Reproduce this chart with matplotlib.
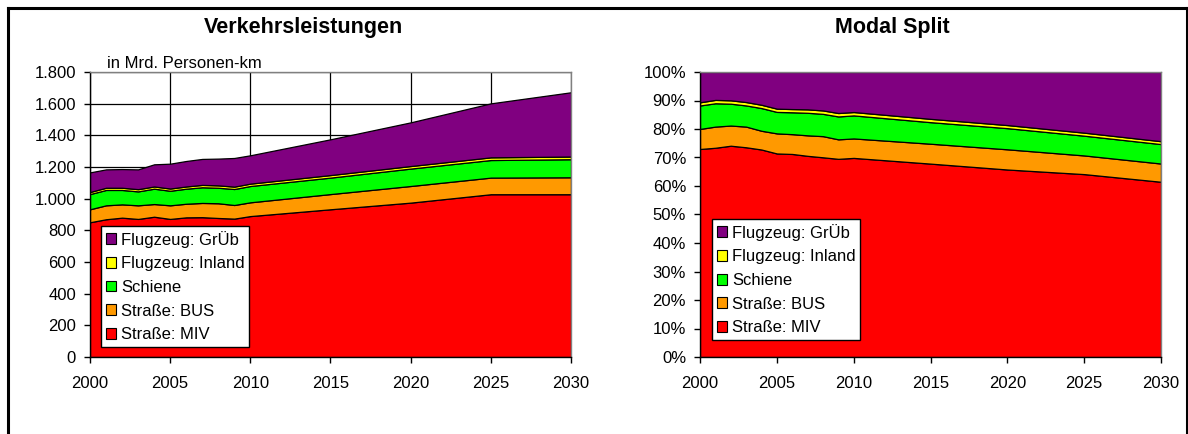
import numpy as np
import matplotlib
matplotlib.use("Agg")
import matplotlib.pyplot as plt
from matplotlib.patches import Patch
from matplotlib.lines import Line2D
from matplotlib.ticker import FuncFormatter, PercentFormatter, MultipleLocator

plt.rcParams['font.family'] = ['Liberation Sans', 'DejaVu Sans']

# Passenger transport volume in billion passenger-km
years = [2000, 2001, 2002, 2003, 2004, 2005, 2006, 2007, 2008, 2009, 2010,
         2015, 2020, 2025, 2030]
strasse_miv = [851, 870, 880, 872, 886, 872, 882, 883, 878, 874, 890,
               933, 975, 1028, 1028]
strasse_bus = [82, 88, 84, 86, 80, 86, 86, 90, 93, 86, 87,
               96, 105, 105, 107]
schiene = [96, 97, 91, 88, 97, 92, 95, 99, 98, 101, 103,
           104, 110, 111, 114]
flug_inland = [13, 14, 14, 14, 14, 14, 14, 15, 15, 15, 15,
               16, 16, 17, 17]
flug_grueb = [124, 116, 118, 125, 140, 157, 161, 164, 169, 181, 179,
              226, 276, 341, 406]

labels = ["Straße: MIV", "Straße: BUS", "Schiene",
          "Flugzeug: Inland", "Flugzeug: GrÜb"]
colors = ["#FF0000", "#FF9900", "#00FF00", "#FFFF00", "#800080"]

series = np.array([strasse_miv, strasse_bus, schiene, flug_inland, flug_grueb],
                  dtype=float)
shares = series / series.sum(axis=0)

W, H = 1188, 434
fig = plt.figure(figsize=(W / 100, H / 100), dpi=100)
fig.patch.set_facecolor("white")


def px_axes(x0, y0, x1, y1):
    return fig.add_axes([x0 / W, 1 - y1 / H, (x1 - x0) / W, (y1 - y0) / H])


def style_axes(ax):
    for side in ("top", "right"):
        ax.spines[side].set_color("#808080")
        ax.spines[side].set_linewidth(1.0)
    for side in ("left", "bottom"):
        ax.spines[side].set_color("black")
        ax.spines[side].set_linewidth(1.0)
    ax.tick_params(axis="both", direction="out", length=4, width=1,
                   labelsize=12, colors="black")
    ax.tick_params(axis="y", pad=6)
    ax.tick_params(axis="x", pad=9.5)
    ax.set_xlim(2000, 2030)
    ax.xaxis.set_major_locator(MultipleLocator(5))


def add_legend(ax, x0, top):
    handles = [Patch(facecolor=c, edgecolor="black", linewidth=0.8)
               for c in colors][::-1]
    leg = ax.legend(handles, labels[::-1], loc="upper left",
                    bbox_to_anchor=(x0, top), fontsize=12,
                    frameon=True, fancybox=False, framealpha=1,
                    edgecolor="black", handlelength=0.62, handleheight=0.62,
                    handletextpad=0.3, labelspacing=0.52, borderpad=0.28,
                    borderaxespad=0)
    leg.get_frame().set_linewidth(1.0)


# Left chart: absolute values
ax1 = px_axes(90, 72, 571, 357)
style_axes(ax1)
ax1.stackplot(years, *series, colors=colors, edgecolor="black", linewidth=0.9)
ax1.set_ylim(0, 1800)
ax1.yaxis.set_major_locator(MultipleLocator(200))
ax1.yaxis.set_major_formatter(
    FuncFormatter(lambda v, p: f"{int(v):,}".replace(",", ".")))
ax1.grid(True, color="black", linewidth=0.9)
ax1.set_axisbelow(True)
add_legend(ax1, 0.023, 0.46)
fig.text(107 / W, 1 - 63 / H, "in Mrd. Personen-km", fontsize=12,
         ha="left", va="center")
fig.text(303 / W, 1 - 27 / H, "Verkehrsleistungen", fontsize=15.5,
         fontweight="bold", ha="center", va="center")

# Right chart: modal split shares
ax2 = px_axes(700, 72, 1161, 357)
style_axes(ax2)
ax2.stackplot(years, *shares, colors=colors, edgecolor="black", linewidth=0.9)
ax2.set_ylim(0, 1)
ax2.yaxis.set_major_locator(MultipleLocator(0.1))
ax2.yaxis.set_major_formatter(PercentFormatter(xmax=1, decimals=0))
add_legend(ax2, 0.026, 0.484)
fig.text(892 / W, 1 - 27 / H, "Modal Split", fontsize=15.5,
         fontweight="bold", ha="center", va="center")

# Outer chart frame
for xs, ys in (([7.5, 1186.5], [7.5, 7.5]),
               ([7.5, 7.5], [7.5, 440]),
               ([1186.5, 1186.5], [7.5, 440])):
    fig.add_artist(Line2D([x / W for x in xs], [1 - y / H for y in ys],
                          color="black", linewidth=2.2,
                          transform=fig.transFigure))

fig.savefig("out.png", dpi=100, facecolor="white")
